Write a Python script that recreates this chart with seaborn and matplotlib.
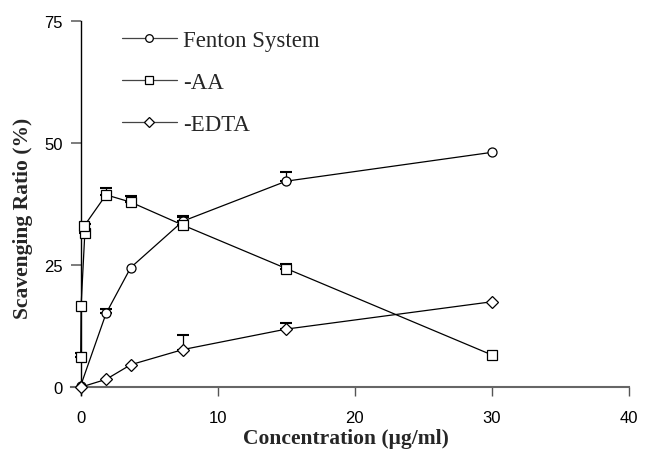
import numpy as np
import pandas as pd
import matplotlib
matplotlib.use("Agg")
import matplotlib.pyplot as plt
import seaborn as sns

# ---- data ----
fenton_x = [0, 1.85, 3.65, 7.45, 15, 30]
fenton_y = [0.3, 15.1, 24.5, 34.0, 42.2, 48.1]
fenton_err = [0, 1.0, 0, 0.9, 1.8, 0]

aa_x = [0, 0.03, 0.3, 0.25, 1.85, 3.65, 7.45, 15, 30]
aa_y = [6.1, 16.7, 31.5, 33.0, 39.4, 37.9, 33.2, 24.3, 6.6]
aa_err = [1.0, 0, 2.0, 0, 1.4, 1.3, 1.9, 1.0, 0]

edta_x = [0, 1.85, 3.65, 7.45, 15, 30]
edta_y = [0.0, 1.6, 4.6, 7.7, 11.9, 17.5]
edta_err = [0, 0, 0, 2.9, 1.2, 0]

labels = ["Fenton System", "-AA", "-EDTA"]
markers = ["o", "s", "D"]
x_ticks = [0, 10, 20, 30, 40]
y_ticks = [0, 25, 50, 75]

sns.set_theme(style="ticks")
plt.rcParams["font.family"] = ["Liberation Sans", "DejaVu Sans"]

W, H = 645, 456
fig = plt.figure(figsize=(W / 100, H / 100), dpi=100)
ax = fig.add_axes([71.1 / W, 1 - 396 / H, (629 - 71.1) / W, (396 - 22) / H])

series = [(fenton_x, fenton_y, fenton_err), (aa_x, aa_y, aa_err), (edta_x, edta_y, edta_err)]
msizes = [6.5, 6.8, 6.0]
for (xs, ys, es), lab, mk, ms in zip(series, labels, markers, msizes):
    df = pd.DataFrame({"x": xs, "y": ys})
    sns.lineplot(data=df, x="x", y="y", sort=False, ax=ax, color="black",
                 linewidth=0.9, marker=mk, markersize=ms, markerfacecolor="white",
                 markeredgecolor="black", markeredgewidth=0.9, label=lab, zorder=3,
                 errorbar=None, estimator=None)
    xe = [x for x, e in zip(xs, es) if e > 0]
    ye = [y for y, e in zip(ys, es) if e > 0]
    ee = [e for e in es if e > 0]
    ax.errorbar(xe, ye, yerr=[np.zeros(len(ee)), ee], fmt="none", ecolor="black",
                elinewidth=0.9, capsize=4.3, capthick=1.5, zorder=2)

ax.set_xlim(-0.7, 40)
ax.set_ylim(-1.6, 75)
ax.set_xticks(x_ticks)
ax.set_yticks(y_ticks)
ax.set_xticklabels([str(t) for t in x_ticks])
ax.set_yticklabels([str(t) for t in y_ticks])
ax.spines["top"].set_visible(False)
ax.spines["right"].set_visible(False)
ax.spines["left"].set_position(("data", 0))
ax.spines["bottom"].set_position(("data", 0))
ax.spines["left"].set_color("black")
ax.spines["left"].set_linewidth(1.0)
ax.spines["bottom"].set_color("#666666")
ax.spines["bottom"].set_linewidth(1.5)
ax.tick_params(axis="x", direction="out", length=6.5, width=1.0, color="#555555",
               pad=10, labelsize=12, labelcolor="black")
ax.tick_params(axis="y", direction="out", length=7.2, width=1.2, color="#666666",
               pad=5.5, labelsize=12, labelcolor="black")
ax.set_xlabel("")
ax.set_ylabel("")

fig.text(345.5 / W, 1 - 439.5 / H, "Concentration (\u03bcg/ml)", ha="center", va="center",
         fontsize=15.5, fontweight="bold", family=["Liberation Serif", "DejaVu Serif"])
fig.text(23 / W, 1 - 218 / H, "Scavenging Ratio (%)", ha="center", va="center",
         rotation=90, fontsize=15.5, fontweight="bold", family=["Liberation Serif", "DejaVu Serif"])

leg = ax.legend(loc="upper left", bbox_to_anchor=(122 / W, 1 - 31 / H),
                bbox_transform=fig.transFigure, frameon=False, borderpad=0,
                borderaxespad=0, handlelength=2.39, handletextpad=0.28,
                labelspacing=0.92, prop={"family": "Liberation Serif", "size": 16.5})
for h in leg.legend_handles:
    h.set_color("#444444")
    h.set_markeredgecolor("black")
    h.set_markerfacecolor("white")
    h.set_markersize(5.5)

fig.savefig("out.png", dpi=100)
